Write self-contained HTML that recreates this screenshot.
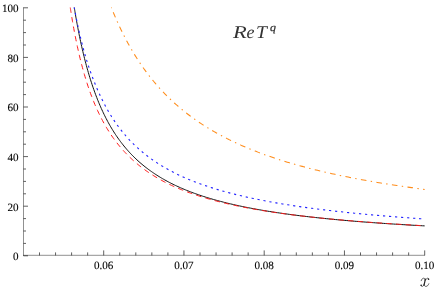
<!DOCTYPE html>
<html><head><meta charset="utf-8"><style>
html,body{margin:0;padding:0;background:#fff}
#c{text-rendering:geometricPrecision;position:absolute;left:0;top:0;will-change:transform;width:436px;height:287px;overflow:hidden;background:#fff;font-family:"Liberation Serif",serif;color:#000}
.yl{position:absolute;left:0;width:18.6px;text-align:right;font-size:11.1px;-webkit-text-stroke:0.1px #000;line-height:13px;height:13px}
.xl{position:absolute;top:260px;width:40px;text-align:center;font-size:11.1px;-webkit-text-stroke:0.1px #000;line-height:13px}
.g{transform-origin:0 0}
.t{position:absolute;font-style:italic;color:#333;white-space:nowrap}
</style></head><body><div id="c">
<svg width="436" height="287" viewBox="0 0 436 287" style="position:absolute;left:0;top:0">
<g stroke="#000" stroke-opacity="0.43" stroke-width="1" fill="none">
<path d="M23.5 7.3 V255.8 M23 255.3 H424.9"/>
<path d="M23.5 255.80 h4.5 M23.5 243.40 h2.5 M23.5 231.00 h2.5 M23.5 218.60 h2.5 M23.5 206.20 h4.5 M23.5 193.80 h2.5 M23.5 181.40 h2.5 M23.5 169.00 h2.5 M23.5 156.60 h4.5 M23.5 144.20 h2.5 M23.5 131.80 h2.5 M23.5 119.40 h2.5 M23.5 107.00 h4.5 M23.5 94.60 h2.5 M23.5 82.20 h2.5 M23.5 69.80 h2.5 M23.5 57.40 h4.5 M23.5 45.00 h2.5 M23.5 32.60 h2.5 M23.5 20.20 h2.5 M23.5 7.80 h4.5 M39.50 255.4 v-3 M55.55 255.4 v-3 M71.60 255.4 v-3 M87.65 255.4 v-3 M103.70 255.4 v-5 M119.75 255.4 v-3 M135.80 255.4 v-3 M151.85 255.4 v-3 M167.90 255.4 v-3 M183.95 255.4 v-5 M200.00 255.4 v-3 M216.05 255.4 v-3 M232.10 255.4 v-3 M248.15 255.4 v-3 M264.20 255.4 v-5 M280.25 255.4 v-3 M296.30 255.4 v-3 M312.35 255.4 v-3 M328.40 255.4 v-3 M344.45 255.4 v-5 M360.50 255.4 v-3 M376.55 255.4 v-3 M392.60 255.4 v-3 M408.65 255.4 v-3 M424.70 255.4 v-5 " stroke-opacity="0.62"/>
</g>
<path d="M74.28 7.51 L74.30 7.58 L74.33 7.77 L74.37 8.06 L74.43 8.43 L74.51 8.88 L74.59 9.41 L74.69 10.01 L74.80 10.68 L74.92 11.42 L75.06 12.22 L75.20 13.08 L75.36 14.01 L75.52 14.98 L75.70 16.02 L75.89 17.10 L76.09 18.23 L76.29 19.41 L76.51 20.63 L76.74 21.90 L76.98 23.21 L77.22 24.55 L77.48 25.93 L77.75 27.35 L78.02 28.80 L78.31 30.28 L78.60 31.78 L78.91 33.32 L79.22 34.88 L79.54 36.46 L79.87 38.06 L80.21 39.69 L80.56 41.33 L80.92 42.99 L81.28 44.66 L81.66 46.35 L82.04 48.04 L82.43 49.75 L82.83 51.47 L83.24 53.20 L83.66 54.93 L84.09 56.67 L84.52 58.41 L84.96 60.16 L85.42 61.91 L85.88 63.66 L86.34 65.40 L86.82 67.15 L87.30 68.90 L87.80 70.64 L88.30 72.38 L88.80 74.11 L89.32 75.84 L89.84 77.57 L90.38 79.28 L90.92 80.99 L91.47 82.69 L92.02 84.38 L92.59 86.07 L93.16 87.74 L93.74 89.40 L94.33 91.06 L94.92 92.70 L95.52 94.33 L96.13 95.95 L96.75 97.55 L97.38 99.15 L98.01 100.73 L98.65 102.30 L99.30 103.85 L99.96 105.39 L100.62 106.92 L101.29 108.43 L101.97 109.93 L102.66 111.42 L103.35 112.89 L104.05 114.34 L104.76 115.79 L105.48 117.21 L106.20 118.63 L106.93 120.02 L107.67 121.41 L108.42 122.78 L109.17 124.13 L109.93 125.47 L110.70 126.79 L111.47 128.10 L112.26 129.39 L113.04 130.67 L113.84 131.94 L114.64 133.19 L115.46 134.42 L116.27 135.64 L117.10 136.85 L117.93 138.04 L118.77 139.22 L119.62 140.38 L120.47 141.53 L121.33 142.66 L122.20 143.79 L123.07 144.89 L123.95 145.99 L124.84 147.07 L125.74 148.13 L126.64 149.19 L127.55 150.23 L128.47 151.25 L129.39 152.27 L130.32 153.27 L131.26 154.26 L132.20 155.23 L133.15 156.19 L134.11 157.15 L135.08 158.08 L136.05 159.01 L137.03 159.92 L138.01 160.83 L139.01 161.72 L140.01 162.60 L141.01 163.47 L142.02 164.32 L143.04 165.17 L144.07 166.00 L145.10 166.83 L146.14 167.64 L147.19 168.45 L148.24 169.24 L149.30 170.02 L150.37 170.79 L151.44 171.55 L152.52 172.31 L153.61 173.05 L154.70 173.78 L155.80 174.50 L156.91 175.22 L158.02 175.92 L159.14 176.62 L160.27 177.30 L161.40 177.98 L162.54 178.65 L163.69 179.31 L164.84 179.96 L166.00 180.60 L167.16 181.24 L168.34 181.87 L169.52 182.48 L170.70 183.09 L171.89 183.70 L173.09 184.29 L174.30 184.88 L175.51 185.46 L176.73 186.03 L177.95 186.60 L179.18 187.16 L180.42 187.71 L181.66 188.25 L182.91 188.79 L184.17 189.32 L185.43 189.84 L186.70 190.36 L187.98 190.87 L189.26 191.37 L190.55 191.87 L191.84 192.36 L193.14 192.85 L194.45 193.33 L195.77 193.80 L197.09 194.27 L198.41 194.73 L199.75 195.18 L201.09 195.63 L202.43 196.08 L203.78 196.52 L205.14 196.95 L206.51 197.38 L207.88 197.80 L209.25 198.22 L210.64 198.63 L212.03 199.04 L213.42 199.45 L214.83 199.84 L216.23 200.24 L217.65 200.63 L219.07 201.01 L220.50 201.39 L221.93 201.76 L223.37 202.13 L224.82 202.50 L226.27 202.86 L227.73 203.22 L229.19 203.57 L230.66 203.92 L232.14 204.26 L233.62 204.61 L235.11 204.94 L236.61 205.27 L238.11 205.60 L239.62 205.93 L241.13 206.25 L242.65 206.57 L244.17 206.88 L245.71 207.19 L247.24 207.50 L248.79 207.80 L250.34 208.10 L251.90 208.40 L253.46 208.69 L255.03 208.98 L256.60 209.27 L258.18 209.55 L259.77 209.83 L261.36 210.11 L262.96 210.38 L264.57 210.65 L266.18 210.92 L267.79 211.18 L269.42 211.44 L271.05 211.70 L272.68 211.96 L274.32 212.21 L275.97 212.46 L277.62 212.71 L279.28 212.95 L280.95 213.20 L282.62 213.44 L284.30 213.67 L285.98 213.91 L287.67 214.14 L289.36 214.37 L291.06 214.59 L292.77 214.82 L294.48 215.04 L296.20 215.26 L297.93 215.48 L299.66 215.69 L301.39 215.91 L303.14 216.12 L304.89 216.32 L306.64 216.53 L308.40 216.73 L310.17 216.94 L311.94 217.14 L313.72 217.33 L315.50 217.53 L317.29 217.72 L319.09 217.91 L320.89 218.10 L322.69 218.29 L324.51 218.48 L326.33 218.66 L328.15 218.84 L329.98 219.02 L331.82 219.20 L333.66 219.38 L335.51 219.55 L337.36 219.72 L339.22 219.90 L341.09 220.07 L342.96 220.23 L344.84 220.40 L346.72 220.56 L348.61 220.73 L350.50 220.89 L352.41 221.05 L354.31 221.21 L356.22 221.36 L358.14 221.52 L360.07 221.67 L362.00 221.82 L363.93 221.97 L365.87 222.12 L367.82 222.27 L369.77 222.42 L371.73 222.56 L373.69 222.70 L375.66 222.85 L377.64 222.99 L379.62 223.13 L381.61 223.26 L383.60 223.40 L385.60 223.54 L387.60 223.67 L389.61 223.80 L391.63 223.93 L393.65 224.06 L395.68 224.19 L397.71 224.32 L399.75 224.45 L401.79 224.57 L403.84 224.70 L405.90 224.82 L407.96 224.94 L410.02 225.06 L412.10 225.18 L414.17 225.30 L416.26 225.42 L418.35 225.54 L420.44 225.65 L422.54 225.77 L424.65 225.88" stroke="#111" stroke-width="1.0" fill="none"/>
<path d="M70.26 7.51 L70.27 7.59 L70.30 7.79 L70.35 8.09 L70.41 8.49 L70.48 8.97 L70.57 9.53 L70.67 10.17 L70.78 10.88 L70.91 11.66 L71.04 12.51 L71.19 13.43 L71.35 14.40 L71.51 15.44 L71.69 16.53 L71.88 17.67 L72.08 18.87 L72.29 20.11 L72.51 21.40 L72.74 22.73 L72.98 24.10 L73.23 25.51 L73.49 26.96 L73.76 28.44 L74.04 29.95 L74.33 31.50 L74.63 33.07 L74.93 34.67 L75.25 36.29 L75.58 37.93 L75.91 39.59 L76.25 41.27 L76.61 42.97 L76.97 44.68 L77.34 46.41 L77.72 48.15 L78.11 49.89 L78.50 51.65 L78.91 53.41 L79.32 55.18 L79.74 56.95 L80.17 58.73 L80.61 60.50 L81.06 62.28 L81.52 64.06 L81.98 65.84 L82.46 67.61 L82.94 69.38 L83.43 71.15 L83.93 72.91 L84.43 74.66 L84.95 76.41 L85.47 78.15 L86.00 79.89 L86.54 81.61 L87.08 83.32 L87.64 85.03 L88.20 86.72 L88.77 88.40 L89.35 90.08 L89.94 91.73 L90.53 93.38 L91.13 95.02 L91.74 96.64 L92.36 98.24 L92.99 99.84 L93.62 101.42 L94.26 102.98 L94.91 104.54 L95.56 106.07 L96.23 107.59 L96.90 109.10 L97.58 110.59 L98.27 112.07 L98.96 113.53 L99.66 114.98 L100.37 116.41 L101.09 117.83 L101.81 119.23 L102.55 120.61 L103.28 121.98 L104.03 123.34 L104.79 124.68 L105.55 126.00 L106.32 127.31 L107.09 128.60 L107.88 129.88 L108.67 131.14 L109.47 132.39 L110.27 133.63 L111.08 134.84 L111.90 136.05 L112.73 137.24 L113.57 138.41 L114.41 139.57 L115.26 140.71 L116.11 141.85 L116.98 142.96 L117.85 144.07 L118.72 145.15 L119.61 146.23 L120.50 147.29 L121.40 148.35 L122.31 149.39 L123.22 150.42 L124.14 151.43 L125.07 152.43 L126.00 153.42 L126.94 154.40 L127.89 155.36 L128.84 156.31 L129.81 157.25 L130.78 158.18 L131.75 159.09 L132.73 160.00 L133.72 160.89 L134.72 161.77 L135.72 162.64 L136.74 163.50 L137.75 164.35 L138.78 165.18 L139.81 166.01 L140.85 166.83 L141.89 167.63 L142.94 168.43 L144.00 169.21 L145.07 169.99 L146.14 170.75 L147.22 171.50 L148.30 172.25 L149.40 172.99 L150.49 173.71 L151.60 174.43 L152.71 175.14 L153.83 175.84 L154.96 176.53 L156.09 177.21 L157.23 177.89 L158.38 178.55 L159.53 179.21 L160.69 179.86 L161.85 180.50 L163.03 181.13 L164.21 181.75 L165.39 182.37 L166.58 182.98 L167.78 183.58 L168.99 184.17 L170.20 184.76 L171.42 185.33 L172.65 185.90 L173.88 186.46 L175.12 187.01 L176.36 187.55 L177.61 188.09 L178.87 188.62 L180.13 189.14 L181.41 189.66 L182.68 190.17 L183.97 190.68 L185.26 191.18 L186.55 191.67 L187.86 192.15 L189.17 192.63 L190.48 193.11 L191.81 193.58 L193.14 194.04 L194.47 194.50 L195.81 194.95 L197.16 195.39 L198.52 195.84 L199.88 196.27 L201.25 196.70 L202.62 197.13 L204.00 197.55 L205.39 197.96 L206.78 198.37 L208.18 198.77 L209.59 199.17 L211.00 199.57 L212.42 199.96 L213.84 200.35 L215.27 200.73 L216.71 201.10 L218.15 201.48 L219.60 201.84 L221.06 202.21 L222.52 202.57 L223.99 202.92 L225.46 203.27 L226.95 203.62 L228.43 203.96 L229.93 204.30 L231.43 204.63 L232.93 204.97 L234.45 205.29 L235.96 205.62 L237.49 205.94 L239.02 206.25 L240.56 206.56 L242.10 206.87 L243.65 207.18 L245.21 207.48 L246.77 207.78 L248.34 208.07 L249.91 208.36 L251.49 208.65 L253.08 208.94 L254.67 209.22 L256.27 209.50 L257.88 209.77 L259.49 210.05 L261.10 210.31 L262.73 210.58 L264.36 210.84 L265.99 211.11 L267.63 211.36 L269.28 211.62 L270.94 211.87 L272.60 212.12 L274.26 212.37 L275.93 212.61 L277.61 212.85 L279.30 213.09 L280.99 213.33 L282.68 213.56 L284.39 213.79 L286.09 214.02 L287.81 214.24 L289.53 214.47 L291.26 214.69 L292.99 214.91 L294.73 215.13 L296.47 215.34 L298.22 215.55 L299.98 215.76 L301.74 215.97 L303.51 216.18 L305.28 216.38 L307.06 216.58 L308.85 216.78 L310.64 216.98 L312.44 217.17 L314.25 217.37 L316.06 217.56 L317.87 217.75 L319.69 217.93 L321.52 218.12 L323.36 218.30 L325.20 218.49 L327.04 218.67 L328.89 218.85 L330.75 219.02 L332.62 219.20 L334.49 219.37 L336.36 219.54 L338.24 219.71 L340.13 219.88 L342.02 220.05 L343.92 220.22 L345.83 220.38 L347.74 220.54 L349.65 220.70 L351.58 220.86 L353.50 221.02 L355.44 221.18 L357.38 221.33 L359.32 221.49 L361.28 221.64 L363.23 221.79 L365.20 221.94 L367.17 222.09 L369.14 222.24 L371.12 222.38 L373.11 222.53 L375.10 222.67 L377.10 222.81 L379.10 222.96 L381.11 223.10 L383.13 223.23 L385.15 223.37 L387.18 223.51 L389.21 223.65 L391.25 223.78 L393.29 223.91 L395.34 224.05 L397.40 224.18 L399.46 224.31 L401.53 224.44 L403.60 224.57 L405.68 224.70 L407.77 224.82 L409.86 224.95 L411.95 225.07 L414.05 225.20 L416.16 225.32 L418.28 225.44 L420.39 225.56 L422.52 225.69 L424.65 225.81" stroke="#ff1a1a" stroke-width="1.0" fill="none" stroke-dasharray="5.4 4.242"/>
<path d="M74.22 7.51 L74.23 7.57 L74.26 7.74 L74.31 7.99 L74.37 8.31 L74.44 8.71 L74.53 9.18 L74.63 9.71 L74.74 10.30 L74.86 10.95 L74.99 11.65 L75.14 12.41 L75.29 13.22 L75.46 14.08 L75.64 14.99 L75.82 15.95 L76.02 16.95 L76.23 17.99 L76.45 19.07 L76.67 20.18 L76.91 21.34 L77.16 22.53 L77.41 23.75 L77.68 25.00 L77.96 26.29 L78.24 27.60 L78.54 28.93 L78.84 30.29 L79.15 31.68 L79.47 33.08 L79.80 34.51 L80.14 35.95 L80.49 37.41 L80.85 38.89 L81.21 40.38 L81.59 41.89 L81.97 43.40 L82.36 44.93 L82.76 46.47 L83.17 48.02 L83.59 49.57 L84.02 51.13 L84.45 52.69 L84.89 54.26 L85.34 55.83 L85.80 57.41 L86.27 58.98 L86.75 60.56 L87.25 62.13 L87.75 63.71 L88.26 65.28 L88.78 66.85 L89.31 68.42 L89.84 69.99 L90.39 71.55 L90.94 73.10 L91.50 74.65 L92.07 76.19 L92.64 77.73 L93.23 79.26 L93.82 80.78 L94.41 82.29 L95.02 83.80 L95.63 85.30 L96.26 86.79 L96.88 88.26 L97.52 89.73 L98.17 91.19 L98.82 92.64 L99.48 94.08 L100.14 95.51 L100.82 96.92 L101.50 98.33 L102.19 99.72 L102.88 101.11 L103.57 102.48 L104.27 103.84 L104.98 105.19 L105.69 106.52 L106.42 107.85 L107.15 109.16 L107.89 110.46 L108.63 111.75 L109.38 113.03 L110.14 114.29 L110.91 115.54 L111.68 116.78 L112.47 118.01 L113.25 119.22 L114.05 120.42 L114.85 121.62 L115.66 122.79 L116.48 123.96 L117.30 125.11 L118.14 126.25 L118.98 127.38 L119.82 128.50 L120.67 129.61 L121.53 130.70 L122.40 131.78 L123.28 132.85 L124.16 133.91 L125.04 134.96 L125.94 135.99 L126.84 137.02 L127.75 138.03 L128.67 139.03 L129.59 140.02 L130.52 141.00 L131.46 141.97 L132.40 142.92 L133.35 143.87 L134.31 144.81 L135.27 145.73 L136.24 146.65 L137.22 147.55 L138.21 148.44 L139.20 149.33 L140.20 150.20 L141.20 151.06 L142.21 151.92 L143.23 152.76 L144.26 153.60 L145.29 154.42 L146.33 155.24 L147.38 156.04 L148.43 156.84 L149.49 157.63 L150.55 158.40 L151.63 159.17 L152.70 159.93 L153.79 160.69 L154.88 161.43 L155.98 162.16 L157.09 162.89 L158.20 163.61 L159.32 164.32 L160.44 165.02 L161.58 165.71 L162.72 166.40 L163.86 167.08 L165.01 167.75 L166.17 168.41 L167.34 169.06 L168.51 169.71 L169.69 170.35 L170.87 170.98 L172.06 171.61 L173.26 172.23 L174.46 172.84 L175.67 173.44 L176.89 174.04 L178.12 174.63 L179.35 175.21 L180.58 175.79 L181.82 176.36 L183.07 176.93 L184.33 177.49 L185.59 178.04 L186.86 178.58 L188.14 179.12 L189.42 179.66 L190.70 180.19 L192.00 180.71 L193.30 181.22 L194.61 181.74 L195.92 182.24 L197.24 182.74 L198.56 183.23 L199.90 183.72 L201.24 184.21 L202.58 184.68 L203.93 185.16 L205.29 185.62 L206.65 186.09 L208.02 186.55 L209.40 187.00 L210.78 187.45 L212.17 187.89 L213.57 188.33 L214.97 188.76 L216.37 189.19 L217.79 189.61 L219.21 190.03 L220.63 190.45 L222.07 190.86 L223.51 191.27 L224.95 191.67 L226.40 192.07 L227.86 192.46 L229.32 192.85 L230.79 193.24 L232.27 193.62 L233.75 194.00 L235.24 194.37 L236.73 194.74 L238.23 195.11 L239.74 195.47 L241.25 195.83 L242.77 196.18 L244.30 196.53 L245.83 196.88 L247.36 197.23 L248.91 197.57 L250.46 197.91 L252.01 198.24 L253.57 198.57 L255.14 198.90 L256.71 199.22 L258.29 199.54 L259.88 199.86 L261.47 200.17 L263.07 200.49 L264.67 200.79 L266.28 201.10 L267.90 201.40 L269.52 201.70 L271.15 202.00 L272.78 202.29 L274.42 202.58 L276.07 202.87 L277.72 203.15 L279.38 203.44 L281.04 203.72 L282.71 203.99 L284.39 204.27 L286.07 204.54 L287.76 204.81 L289.45 205.07 L291.15 205.34 L292.86 205.60 L294.57 205.86 L296.29 206.12 L298.01 206.37 L299.74 206.62 L301.48 206.87 L303.22 207.12 L304.97 207.36 L306.72 207.61 L308.48 207.85 L310.24 208.08 L312.01 208.32 L313.79 208.55 L315.57 208.78 L317.36 209.01 L319.16 209.24 L320.96 209.47 L322.76 209.69 L324.57 209.91 L326.39 210.13 L328.22 210.35 L330.05 210.56 L331.88 210.78 L333.72 210.99 L335.57 211.20 L337.42 211.41 L339.28 211.61 L341.14 211.82 L343.02 212.02 L344.89 212.22 L346.77 212.42 L348.66 212.61 L350.55 212.81 L352.45 213.00 L354.36 213.20 L356.27 213.39 L358.19 213.57 L360.11 213.76 L362.04 213.95 L363.97 214.13 L365.91 214.31 L367.86 214.49 L369.81 214.67 L371.76 214.85 L373.73 215.03 L375.70 215.20 L377.67 215.38 L379.65 215.55 L381.64 215.72 L383.63 215.89 L385.62 216.05 L387.63 216.22 L389.64 216.38 L391.65 216.55 L393.67 216.71 L395.70 216.87 L397.73 217.03 L399.76 217.19 L401.81 217.35 L403.85 217.50 L405.91 217.66 L407.97 217.81 L410.03 217.96 L412.10 218.11 L414.18 218.26 L416.26 218.41 L418.35 218.55 L420.45 218.70 L422.55 218.85 L424.65 218.99" stroke="#2222ff" stroke-width="1.1" fill="none" stroke-dasharray="2.2 3.83" stroke-dashoffset="0.5"/>
<path d="M111.32 7.50 L111.34 7.53 L111.36 7.60 L111.40 7.70 L111.46 7.84 L111.52 8.00 L111.60 8.20 L111.69 8.42 L111.79 8.67 L111.90 8.94 L112.02 9.24 L112.15 9.56 L112.28 9.90 L112.43 10.27 L112.59 10.66 L112.76 11.07 L112.94 11.50 L113.12 11.96 L113.32 12.43 L113.52 12.92 L113.73 13.43 L113.95 13.96 L114.18 14.51 L114.42 15.07 L114.67 15.66 L114.92 16.26 L115.19 16.87 L115.46 17.50 L115.74 18.15 L116.02 18.81 L116.32 19.49 L116.62 20.18 L116.94 20.88 L117.26 21.60 L117.58 22.33 L117.92 23.07 L118.26 23.82 L118.61 24.59 L118.97 25.37 L119.34 26.16 L119.71 26.96 L120.09 27.77 L120.48 28.58 L120.87 29.41 L121.28 30.25 L121.69 31.10 L122.11 31.95 L122.53 32.82 L122.97 33.69 L123.41 34.56 L123.85 35.45 L124.31 36.34 L124.77 37.24 L125.24 38.14 L125.72 39.05 L126.20 39.97 L126.69 40.89 L127.19 41.82 L127.69 42.75 L128.20 43.68 L128.72 44.62 L129.25 45.56 L129.78 46.51 L130.32 47.46 L130.86 48.41 L131.42 49.37 L131.98 50.32 L132.54 51.28 L133.12 52.24 L133.70 53.21 L134.28 54.17 L134.88 55.14 L135.48 56.11 L136.09 57.07 L136.70 58.04 L137.32 59.01 L137.95 59.98 L138.58 60.95 L139.22 61.92 L139.87 62.89 L140.52 63.86 L141.18 64.83 L141.85 65.79 L142.52 66.76 L143.20 67.73 L143.89 68.69 L144.58 69.65 L145.28 70.61 L145.99 71.57 L146.70 72.53 L147.42 73.48 L148.14 74.44 L148.87 75.39 L149.61 76.34 L150.36 77.28 L151.11 78.23 L151.86 79.17 L152.63 80.11 L153.40 81.04 L154.17 81.97 L154.95 82.90 L155.74 83.83 L156.54 84.75 L157.34 85.67 L158.15 86.58 L158.96 87.50 L159.78 88.40 L160.61 89.31 L161.44 90.21 L162.28 91.11 L163.12 92.00 L163.97 92.89 L164.83 93.78 L165.69 94.66 L166.56 95.53 L167.43 96.41 L168.32 97.28 L169.20 98.14 L170.10 99.00 L171.00 99.86 L171.90 100.71 L172.81 101.56 L173.73 102.40 L174.66 103.24 L175.59 104.07 L176.52 104.90 L177.46 105.73 L178.41 106.55 L179.36 107.36 L180.32 108.17 L181.29 108.98 L182.26 109.78 L183.24 110.58 L184.22 111.37 L185.21 112.16 L186.21 112.94 L187.21 113.72 L188.22 114.50 L189.23 115.26 L190.25 116.03 L191.27 116.79 L192.31 117.54 L193.34 118.29 L194.38 119.04 L195.43 119.78 L196.49 120.52 L197.55 121.25 L198.61 121.97 L199.68 122.70 L200.76 123.41 L201.85 124.13 L202.94 124.84 L204.03 125.54 L205.13 126.24 L206.24 126.93 L207.35 127.62 L208.47 128.31 L209.59 128.99 L210.72 129.66 L211.86 130.33 L213.00 131.00 L214.14 131.66 L215.30 132.32 L216.45 132.97 L217.62 133.62 L218.79 134.26 L219.96 134.90 L221.14 135.54 L222.33 136.17 L223.52 136.80 L224.72 137.42 L225.92 138.04 L227.13 138.65 L228.35 139.26 L229.57 139.86 L230.79 140.46 L232.03 141.06 L233.26 141.65 L234.51 142.24 L235.75 142.82 L237.01 143.40 L238.27 143.98 L239.53 144.55 L240.80 145.11 L242.08 145.68 L243.36 146.23 L244.65 146.79 L245.94 147.34 L247.24 147.89 L248.54 148.43 L249.85 148.97 L251.17 149.50 L252.49 150.04 L253.82 150.56 L255.15 151.09 L256.49 151.61 L257.83 152.12 L259.18 152.63 L260.53 153.14 L261.89 153.65 L263.25 154.15 L264.62 154.65 L266.00 155.14 L267.38 155.63 L268.77 156.12 L270.16 156.60 L271.56 157.08 L272.96 157.55 L274.37 158.03 L275.78 158.50 L277.20 158.96 L278.62 159.42 L280.05 159.88 L281.49 160.34 L282.93 160.79 L284.38 161.24 L285.83 161.69 L287.28 162.13 L288.75 162.57 L290.21 163.00 L291.69 163.44 L293.17 163.87 L294.65 164.29 L296.14 164.72 L297.63 165.14 L299.13 165.55 L300.64 165.97 L302.15 166.38 L303.66 166.79 L305.19 167.19 L306.71 167.59 L308.24 167.99 L309.78 168.39 L311.32 168.78 L312.87 169.17 L314.42 169.56 L315.98 169.95 L317.55 170.33 L319.12 170.71 L320.69 171.08 L322.27 171.46 L323.85 171.83 L325.44 172.20 L327.04 172.56 L328.64 172.93 L330.25 173.29 L331.86 173.65 L333.47 174.00 L335.09 174.36 L336.72 174.71 L338.35 175.05 L339.99 175.40 L341.63 175.74 L343.28 176.08 L344.93 176.42 L346.59 176.76 L348.25 177.09 L349.92 177.42 L351.60 177.75 L353.28 178.07 L354.96 178.40 L356.65 178.72 L358.34 179.04 L360.04 179.36 L361.75 179.67 L363.46 179.98 L365.17 180.29 L366.89 180.60 L368.62 180.91 L370.35 181.21 L372.09 181.51 L373.83 181.81 L375.57 182.11 L377.32 182.40 L379.08 182.70 L380.84 182.99 L382.61 183.28 L384.38 183.57 L386.16 183.85 L387.94 184.13 L389.73 184.41 L391.52 184.69 L393.32 184.97 L395.12 185.25 L396.93 185.52 L398.74 185.79 L400.56 186.06 L402.38 186.33 L404.21 186.59 L406.04 186.86 L407.88 187.12 L409.72 187.38 L411.57 187.64 L413.42 187.90 L415.28 188.15 L417.15 188.41 L419.01 188.66 L420.89 188.91 L422.77 189.16 L424.65 189.40" stroke="#ff8c1a" stroke-width="1.05" fill="none" stroke-dasharray="1.4 4.365 5.6 4.365" stroke-dashoffset="0.7"/>
</svg>
<div class="yl" style="top:251px">0</div><div class="yl" style="top:202px">20</div><div class="yl" style="top:152px">40</div><div class="yl" style="top:102px">60</div><div class="yl" style="top:53px">80</div><div class="yl" style="top:3px">100</div><div class="xl" style="left:83.65px">0.06</div><div class="xl" style="left:163.90px">0.07</div><div class="xl" style="left:244.15px">0.08</div><div class="xl" style="left:324.40px">0.09</div><div class="xl" style="left:404.65px">0.10</div>
<div class="t g" style="left:233.2px;top:22.8px;font-size:18px;line-height:18px;transform:scaleX(1.25)">R</div>
<div class="t g" style="left:246.4px;top:22.8px;font-size:18px;line-height:18px;transform:scaleX(1.0)">e</div>
<div class="t g" style="left:256.2px;top:22.8px;font-size:18px;line-height:18px;transform:scaleX(1.09)">T</div>
<div class="t g" style="left:270.2px;top:23.0px;font-size:10.8px;line-height:10.8px;-webkit-text-stroke:0.25px #333;transform:scaleX(1.1)">q</div>
<svg width="24" height="15" viewBox="0 0 24 15" style="position:absolute;left:412px;top:272.3px" fill="none" stroke="#222" stroke-linecap="round">
<path d="M9.2 8.7 C9.6 7.2 10.6 6.2 11.6 6.2 C12.6 6.2 13.1 6.9 13.2 7.8" stroke-width="0.7"/>
<path d="M13.3 7.0 C13.0 9.5 12.4 11.5 11.9 13.2" stroke-width="1.2"/>
<path d="M13.4 8.2 C13.9 7.0 14.9 6.2 15.9 6.2 C16.5 6.2 16.9 6.7 16.8 7.3" stroke-width="0.7"/>
<path d="M11.9 13.0 C11.5 13.9 10.8 14.4 10.1 14.4 C9.4 14.4 8.9 13.9 8.9 13.3" stroke-width="0.7"/>
<path d="M12.2 12.6 C12.3 13.7 12.9 14.4 13.9 14.4 C15.2 14.4 16.3 13.3 16.8 11.8" stroke-width="0.7"/>
<circle cx="16.5" cy="7.3" r="0.75" fill="#222" stroke="none"/>
<circle cx="9.2" cy="13.3" r="0.75" fill="#222" stroke="none"/>
</svg>
</div></body></html>
